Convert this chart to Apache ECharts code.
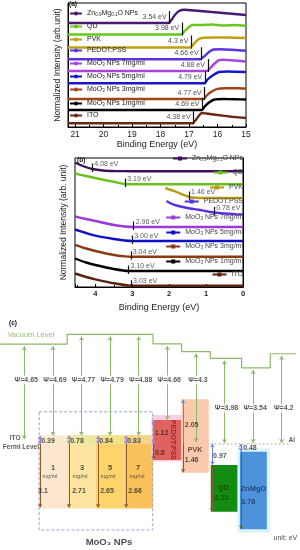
<!DOCTYPE html>
<html><head><meta charset="utf-8">
<script src="https://cdn.jsdelivr.net/npm/echarts@6/dist/echarts.min.js"></script>
<style>html,body{margin:0;padding:0;background:#fff}#c{width:300px;height:550px}</style>
</head><body><div id="c"></div>
<script>
// ================= DATA =================
// ---- Panel (a): secondary electron cut-off (binding energy eV, offset normalized intensity)
const namesA = ['Zn0.9Mg0.1O NPs','QD','PVK','PEDOT:PSS','MoO3 NPs 7mg/ml','MoO3 NPs 5mg/ml','MoO3 NPs 3mg/ml','MoO3 NPs 1mg/ml','ITO'];
const colorsA = ['#4a1a70','#66c81c','#bfa010','#5a32e0','#a844dc','#1616cc','#a34417','#000000','#6b2818'];
const znA   = [[21.25,10.5],[17.72,10.5],[17.62,10.8],[17.5,11.3],[17.35,11.7],[17.15,11.82],[16.8,11.75],[16.2,11.6],[15.6,11.45],[15,11.3]];
const qdA   = [[21.25,9.35],[17.27,9.35],[17.15,9.7],[17.0,10.1],[16.88,10.3],[16.6,10.3],[16.2,10.35],[15.8,10.25],[15.4,10.3],[15,10.22]];
const pvkA  = [[21.25,8.05],[16.95,8.05],[16.85,8.35],[16.7,8.8],[16.55,9.0],[16.2,9.05],[15.6,9.05],[15,9.0]];
const pedA  = [[21.25,6.87],[16.6,6.87],[16.45,7.2],[16.3,7.6],[16.15,7.85],[15.9,7.88],[15.5,7.82],[15,7.72]];
const mo7A  = [[21.25,5.7],[16.37,5.7],[16.25,6.0],[16.1,6.45],[15.95,6.78],[15.8,6.82],[15.4,6.75],[15,6.65]];
const mo5A  = [[21.25,4.47],[16.46,4.47],[16.35,4.85],[16.15,5.3],[15.95,5.6],[15.6,5.65],[15,5.6]];
const mo3A  = [[21.25,2.9],[16.48,2.9],[16.38,3.25],[16.2,3.65],[16.0,3.92],[15.7,3.98],[15.3,3.98],[15,3.95]];
const mo1A  = [[21.25,1.8],[16.55,1.8],[16.45,2.15],[16.3,2.55],[16.1,2.85],[15.8,2.9],[15.4,2.88],[15,2.85]];
const itoA  = [[21.25,0.47],[16.87,0.47],[16.75,0.85],[16.62,1.35],[16.55,1.5],[16.4,1.45],[16.0,1.3],[15.5,1.12],[15,1.0]];
const cutoffA = [17.68,17.24,16.92,16.56,16.34,16.43,16.45,16.53,16.84];
const cutTextA = ['3.54 eV','3.98 eV','4.3 eV','4.66 eV','4.88 eV','4.79 eV','4.77 eV','4.69 eV','4.38 eV'];
const ticksA = [15,16,17,18,19,20,21];

// ---- Panel (b): valence band region
const colorsB = ['#3d0f5c','#6cbf20','#b59a10','#5a2ee6','#9b3ad8','#1010c8','#8b3a12','#000000','#5a2010'];
const znB   = [[4.55,12.45],[4.3,12.05],[4.08,11.8],[3.8,11.65],[3.5,11.6],[3.0,11.58],[0,11.58]];
const qdB   = [[4.55,11.35],[4.25,11.1],[4.0,10.9],[3.75,10.7],[3.5,10.52],[3.19,10.3],[3.0,10.28],[0,10.28]];
const pvkB  = [[2.1,9.9],[1.95,9.7],[1.8,9.5],[1.6,9.2],[1.46,9.0],[1.3,8.92],[1.0,8.9],[0,8.9]];
const pedB  = [[2.07,8.6],[1.95,8.35],[1.8,8.15],[1.5,7.9],[1.2,7.72],[0.95,7.55],[0.78,7.45],[0.5,7.35],[0.2,7.28],[0,7.25]];
const mo7B  = [[4.55,7.05],[4.25,6.8],[4.0,6.6],[3.5,6.2],[3.2,6.05],[2.96,6.0],[0,6.0]];
const mo5B  = [[4.55,5.75],[4.25,5.4],[4.0,5.13],[3.5,4.8],[3.2,4.65],[3.0,4.6],[0,4.6]];
const mo3B  = [[4.55,4.22],[4.25,3.85],[4.0,3.6],[3.5,3.2],[3.2,3.06],[3.04,3.03],[0,3.03]];
const mo1B  = [[4.55,2.85],[4.25,2.45],[4.0,2.2],[3.5,1.8],[3.1,1.6],[0,1.6]];
const itoB  = [[4.55,1.35],[4.25,1.0],[4.0,0.77],[3.5,0.37],[3.03,0.12],[0,0.12]];
const cutoffB = [4.08,3.19,1.46,0.78,2.96,3.00,3.04,3.10,3.03];
const cutTextB = ['4.08 eV','3.19 eV','1.46 eV','0.78 eV','2.96 eV','3.00 eV','3.04 eV','3.10 eV','3.03 eV'];
const ticksB = [0,1,2,3,4];

// ---- Panel (c): energy-level diagram (eV relative to Fermi level; x = layer column)
const vacBounds = [-0.35, 2, 5, 6, 7, 8.1, 9.1, 10];
const vacLevels = [4.65, 5.1, 4.66, 4.3, 3.98, 3.54, 4.2];
const psiValues = [4.65,4.69,4.77,4.79,4.88,4.66,4.3,3.98,3.54,4.2];
const psiBottom = [0.22,0.4,0.4,0.4,0.4,1.12,0.1,0.05,0.05,0.05];
const moConc = ['1','3','5','7'];
const moTop = [0.39,0.78,0.84,0.83];
const moGap = [3.1,2.71,2.65,2.66];
const pedotLevels = [1.12, 0.8];
const pvkLevels = [2.05, 1.46];
const qdLevels = [0.97, 2.22];
const znLevels = [0.48, 3.76];
// boxes: [x0, x1, top, bottom] as drawn in the schematic
const boxes = [
  [1,2,0.4,-3.0],[2,3,0.4,-3.0],[3,4,0.4,-3.0],[4,5,0.4,-3.0],
  [1,2,0.4,0],[2,3,0.4,0],[3,4,0.4,0],[4,5,0.4,0],
  [4.95,6.08,1.35,-0.82],[5.03,5.98,1.12,-0.74],
  [6.0,6.95,2.08,-1.34],
  [7.02,8.01,-0.98,-3.15],
  [7.95,9.09,-0.2,-4.13],[8.04,8.98,-0.36,-3.97],
  [1.02,4.99,1.5,-4.0]
];
const boxFill = ['#fde6cf','#fde3a0','#fdd36c','#fbc25c','#f7eccd','#ece8a2','#f3e28c','#f3d48a',
  '#f8cfe0','#e0625f','#f9c9ad','#138c13','#ddf3fa','#4d93dc','none'];
const boxStroke = [null,null,null,null,null,null,null,null,null,null,null,null,null,null,'#8fa8d8'];

// ================= BUILD =================
const FONT = '"Liberation Sans", Arial, sans-serif';
const curvesA = [znA,qdA,pvkA,pedA,mo7A,mo5A,mo3A,mo1A,itoA];
const curvesB = [znB,qdB,pvkB,pedB,mo7B,mo5B,mo3B,mo1B,itoB];
const legendCenterA = [15,28,41,52,65,78,91,105,117];
const legendCenterB = [160,174,189,203,219,234,248,263,276];

function fmtName(n){
  return n.replace(/^b_/,'').replace('Zn0.9Mg0.1O','Zn{s|0.9}Mg{s|0.1}O').replace('MoO3','MoO{s|3}');
}
const rich = {s:{fontSize:4.5,verticalAlign:'bottom',padding:[3,0,0,0],fontFamily:FONT}};

const series = [];
curvesA.forEach((d,i)=>{
  series.push({type:'line',name:namesA[i],xAxisIndex:0,yAxisIndex:0,data:d,showSymbol:false,symbol:'circle',symbolSize:4,
    smooth:0.15,lineStyle:{width:2.4,color:colorsA[i]},itemStyle:{color:colorsA[i]},z:3,silent:true});
});
curvesB.forEach((d,i)=>{
  series.push({type:'line',name:'b_'+namesA[i],xAxisIndex:1,yAxisIndex:1,data:d,showSymbol:false,symbol:'rect',symbolSize:4,
    smooth:0.2,lineStyle:{width:2.4,color:colorsB[i]},itemStyle:{color:colorsB[i]},z:3,silent:true});
});
function yAt(d,x){
  for(let k=0;k<d.length-1;k++){
    const a=d[k],b=d[k+1];
    if((x<=a[0]&&x>=b[0])||(x>=a[0]&&x<=b[0])){const t=(x-a[0])/((b[0]-a[0])||1);return a[1]+t*(b[1]-a[1]);}
  }
  return d[d.length-1][1];
}
// cut-off markers
series.push({type:'lines',coordinateSystem:'cartesian2d',xAxisIndex:0,yAxisIndex:0,symbol:'none',z:6,silent:true,
  lineStyle:{color:'#111',width:1.2,opacity:1},
  data:cutoffA.map((c,i)=>({coords:[[c,curvesA[i][0][1]-0.1],[c,curvesA[i][0][1]+1.2]]}))});
series.push({type:'scatter',xAxisIndex:0,yAxisIndex:0,symbolSize:0,z:7,silent:true,
  data:cutoffA.map((c,i)=>[c,curvesA[i][0][1]+0.62,cutTextA[i]]),
  label:{show:true,position:'left',distance:3,formatter:p=>p.data[2],fontSize:7,color:'#222',fontFamily:FONT}});
series.push({type:'lines',coordinateSystem:'cartesian2d',xAxisIndex:1,yAxisIndex:1,symbol:'none',z:6,silent:true,
  lineStyle:{color:'#111',width:1.2,opacity:1},
  data:cutoffB.map((c,i)=>{const y=yAt(curvesB[i],c);return {coords:[[c,y-0.3],[c,y+0.55]]};})});
series.push({type:'scatter',xAxisIndex:1,yAxisIndex:1,symbolSize:0,z:7,silent:true,
  data:cutoffB.map((c,i)=>[c,yAt(curvesB[i],c)+0.45,cutTextB[i]]),
  label:{show:true,position:'right',distance:2,formatter:p=>p.data[2],fontSize:7,color:'#333',fontFamily:FONT}});

// ---- panel (c)
const vacData = [];
vacLevels.forEach((v,i)=>{vacData.push([vacBounds[i],v]);vacData.push([vacBounds[i+1],v]);});
series.push({type:'line',xAxisIndex:2,yAxisIndex:2,data:vacData,showSymbol:false,lineStyle:{color:'#8db86b',width:1.2},z:2,silent:true});
series.push({type:'line',xAxisIndex:2,yAxisIndex:2,data:[[1,0],[9.75,0]],showSymbol:false,lineStyle:{color:'#a8a8a8',width:1,type:[2,2]},z:2,silent:true});
series.push({type:'custom',xAxisIndex:2,yAxisIndex:2,z:3,silent:true,data:boxes,
  encode:{x:[0,1],y:[2,3]},
  renderItem:(params,api)=>{
    const p0=api.coord([api.value(0),api.value(2)]);
    const p1=api.coord([api.value(1),api.value(3)]);
    const i=params.dataIndex;
    return {type:'rect',shape:{x:p0[0],y:p0[1],width:p1[0]-p0[0],height:p1[1]-p0[1]},
      style:{fill:boxFill[i]==='none'?null:boxFill[i],stroke:boxStroke[i],lineWidth:1,lineDash:boxStroke[i]?[3,2]:null}};
  }});
function levelAt(x){for(let i=0;i<vacLevels.length;i++){if(x>=vacBounds[i]&&x<vacBounds[i+1])return vacLevels[i];}return vacLevels[vacLevels.length-1];}
// Work-function arrows
series.push({type:'lines',coordinateSystem:'cartesian2d',xAxisIndex:2,yAxisIndex:2,z:4,silent:true,
  symbol:['arrow','arrow'],symbolSize:4,lineStyle:{color:'#8db86b',width:1,opacity:1},
  data:psiValues.map((v,i)=>({coords:[[i+0.5,psiBottom[i]],[i+0.5,levelAt(i+0.5)-0.1]]}))});
// offset arrows
const dbl = [];  // double headed
const sgl = [];  // end headed
moTop.forEach((v,i)=>{
  const x=[1.05,2.06,3.08,4.06][i];
  dbl.push({coords:[[x,0],[x,0.38]],lineStyle:{color:'#9a7fd9'}});
  sgl.push({coords:[[x,0],[x,-2.95]],lineStyle:{color:'#8b5a2b'}});
});
dbl.push({coords:[[5.02,0],[5.02,1.1]],lineStyle:{color:'#a07be0'}});
sgl.push({coords:[[5.02,0],[5.02,-0.72]],lineStyle:{color:'#8b5a2b'}});
sgl.push({coords:[[6.05,0],[6.05,2.06]],lineStyle:{color:'#6d7fe0'}});
sgl.push({coords:[[6.05,0],[6.05,-1.32]],lineStyle:{color:'#8b5a2b'}});
dbl.push({coords:[[7.08,0],[7.08,-0.96]],lineStyle:{color:'#6d7fe0'}});
sgl.push({coords:[[7.06,-0.98],[7.06,-3.13]],lineStyle:{color:'#8b5a2b'}});
dbl.push({coords:[[8.07,0],[8.07,-0.34]],lineStyle:{color:'#6d7fe0'}});
sgl.push({coords:[[8.08,-0.36],[8.08,-3.95]],lineStyle:{color:'#5c6b2e'}});
series.push({type:'lines',coordinateSystem:'cartesian2d',xAxisIndex:2,yAxisIndex:2,z:5,silent:true,
  symbol:['arrow','arrow'],symbolSize:3.5,lineStyle:{width:1,opacity:1},data:dbl});
series.push({type:'lines',coordinateSystem:'cartesian2d',xAxisIndex:2,yAxisIndex:2,z:5,silent:true,
  symbol:['none','arrow'],symbolSize:3.5,lineStyle:{width:1,opacity:1},data:sgl});

// text annotations for (c)
const ST = {
  psi:{fontSize:7,fontWeight:'bold',color:'#333',backgroundColor:'#fff',padding:[1,1]},
  num:{fontSize:7,fontWeight:'bold',color:'#2a2a2a'},
  big:{fontSize:7.5,fontWeight:'bold',color:'#2a2a2a'},
  sm:{fontSize:5.5,color:'#333'},
  lab:{fontSize:6.5,fontWeight:'bold',color:'#333'},
  vac:{fontSize:7.5,color:'#7fae52'},
  ped:{fontSize:7,fontWeight:'bold',color:'#8b1a1a',rotate:-90},
  pvk:{fontSize:7,fontWeight:'bold',color:'#4a2a1a'},
  qd:{fontSize:7.5,fontWeight:'bold',color:'#1f3d0a'},
  zn:{fontSize:7.5,fontWeight:'bold',color:'#16365c'},
  title:{fontSize:9.5,fontWeight:'bold',color:'#222'},
  unit:{fontSize:7,color:'#222'}
};
const texts = [];
psiValues.forEach((v,i)=>{texts.push([i+0.57, i<7?2.98:1.66, 'Ψ='+v, 'psi']);});
moConc.forEach((c,i)=>{
  texts.push([[1.328,2.342,3.356,4.335][i],0.15,moTop[i].toFixed(2),'num']);
  texts.push([[1.503,2.517,3.496,4.475][i],-1.1,c,'big']);
  texts.push([[1.398,2.447,3.426,4.44][i],-1.49,'mg/ml','sm']);
  texts.push([[1.153,2.412,3.391,4.37][i],-2.17,String(moGap[i]),'num']);
});
texts.push([5.30,0.53,pedotLevels[0].toFixed(2),'num']);
texts.push([5.24,-0.43,String(pedotLevels[1]),'num']);
texts.push([5.71,0.19,'PEDOT:PSS','ped']);
texts.push([6.35,0.88,pvkLevels[0].toFixed(2),'num']);
texts.push([6.47,-0.28,'PVK','pvk']);
texts.push([6.35,-0.74,pvkLevels[1].toFixed(2),'num']);
texts.push([7.34,-0.54,qdLevels[0].toFixed(2),'num']);
texts.push([7.46,-2.06,'QD','qd']);
texts.push([7.40,-2.53,qdLevels[1].toFixed(2),'qd']);
texts.push([8.39,-0.17,znLevels[0].toFixed(2),'num']);
texts.push([8.51,-2.09,'ZnMgO','zn']);
texts.push([8.33,-2.68,znLevels[1].toFixed(2),'zn']);
texts.push([0.18,0.27,'ITO','lab']);
texts.push([0.38,-0.17,'Fermi Level','lab']);
texts.push([9.85,0.19,'Al','lab']);
texts.push([0.73,5.07,'Vacuum Level','vac']);
texts.push([3.46,-4.56,'MoO₃ NPs','title']);
texts.push([9.63,-4.39,'unit: eV','unit']);
series.push({type:'scatter',xAxisIndex:2,yAxisIndex:2,symbolSize:0,z:8,silent:true,
  data:texts.map(t=>({value:[t[0],t[1]],name:t[2],label:Object.assign({show:true,position:'inside',formatter:'{b}',fontFamily:FONT},ST[t[3]])}))});

// legends
const legends = [];
namesA.forEach((n,i)=>{
  legends.push({data:[n],left:69,top:legendCenterA[i]-5,itemWidth:12,itemHeight:5,padding:0,selectedMode:false,
    formatter:fmtName,textStyle:{fontSize:7,color:'#222',fontFamily:FONT,rich:rich}});
});
namesA.forEach((n,i)=>{
  legends.push({data:['b_'+n],right:57,top:legendCenterB[i]-5,itemWidth:14,itemHeight:5,padding:0,selectedMode:false,align:'left',
    formatter:fmtName,textStyle:{fontSize:7,color:'#444',fontFamily:FONT,rich:rich}});
});

const axisCommon = {axisLine:{lineStyle:{color:'#000',width:1}},splitLine:{show:false}};
const option = {
  animation:false,
  backgroundColor:'#fff',
  title:[
    {text:'(a)',left:69,top:1,textStyle:{fontSize:6.5,fontWeight:'bold',color:'#111',fontFamily:FONT},padding:0},
    {text:'(b)',left:77,top:157,textStyle:{fontSize:6.5,fontWeight:'bold',color:'#111',fontFamily:FONT},padding:0},
    {text:'(c)',left:9,top:320,textStyle:{fontSize:6.5,fontWeight:'bold',color:'#111',fontFamily:FONT},padding:0}
  ],
  legend:legends,
  grid:[
    {left:68,top:3,width:178,height:124,show:true,borderColor:'#000',borderWidth:1,backgroundColor:'transparent'},
    {left:75,top:158,width:168,height:129,show:true,borderColor:'#000',borderWidth:1,backgroundColor:'transparent'},
    {left:0,top:320,width:296,height:225}
  ],
  xAxis:[
    Object.assign({type:'value',gridIndex:0,min:15,max:21.25,interval:1,inverse:true,
      name:'Binding Energy (eV)',nameLocation:'middle',nameGap:13,nameTextStyle:{fontSize:9,color:'#222',fontFamily:FONT},
      axisTick:{inside:true,length:3,lineStyle:{color:'#000'}},minorTick:{show:true,splitNumber:2,length:2,lineStyle:{color:'#000'}},
      axisLabel:{fontSize:8.5,color:'#222',margin:3,fontFamily:FONT,showMaxLabel:false,
        formatter:v=>ticksA.indexOf(v)>=0?String(v):''}},axisCommon),
    Object.assign({type:'value',gridIndex:1,min:0,max:4.55,interval:1,inverse:true,
      name:'Binding Energy (eV)',nameLocation:'middle',nameGap:16,nameTextStyle:{fontSize:9,color:'#222',fontFamily:FONT},
      axisTick:{inside:true,length:3,lineStyle:{color:'#000'}},minorTick:{show:true,splitNumber:2,length:2,lineStyle:{color:'#000'}},
      axisLabel:{fontSize:7.5,fontWeight:'bold',color:'#222',margin:3,fontFamily:FONT,showMaxLabel:false,
        formatter:v=>ticksB.indexOf(v)>=0?String(v):''}},axisCommon),
    {type:'value',gridIndex:2,min:-0.35,max:10,show:false}
  ],
  yAxis:[
    Object.assign({type:'value',gridIndex:0,min:0.1,max:12.5,axisTick:{show:false},axisLabel:{show:false},
      name:'Normalized Intensity (arb.unit)',nameLocation:'middle',nameGap:6,nameRotate:90,
      nameTextStyle:{fontSize:8.5,color:'#222',fontFamily:FONT}},axisCommon),
    Object.assign({type:'value',gridIndex:1,min:0,max:12.9,axisTick:{show:false},axisLabel:{show:false},
      name:'Normalized Intensity (arb. unit)',nameLocation:'middle',nameGap:7,nameRotate:90,
      nameTextStyle:{fontSize:8.5,color:'#222',fontFamily:FONT}},axisCommon),
    {type:'value',gridIndex:2,min:-4.7,max:5.77,show:false}
  ],
  series:series
};
const chart = echarts.init(document.getElementById('c'));
chart.setOption(option);
</script>
</body></html>
